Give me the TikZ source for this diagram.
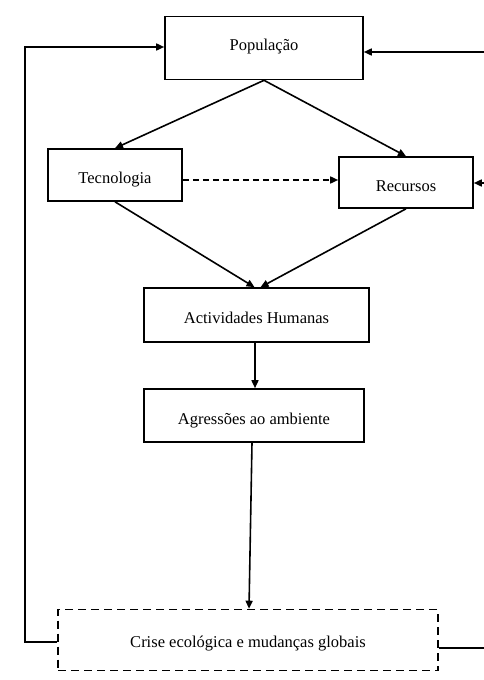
\documentclass[tikz,border=0pt]{standalone}
\usepackage{fontspec}
\setmainfont{Liberation Serif}
\usetikzlibrary{arrows.meta}
\newcommand\shifttxt[2]{\raisebox{#1}[11pt][3.5pt]{#2}}
\begin{document}
\begin{tikzpicture}[x=1pt,y=-1pt,
  box/.style={draw,line width=1.6pt,inner sep=0pt,font=\fontsize{16.5}{18}\selectfont},
  dbox/.style={box,dashed,dash pattern=on 8pt off 5pt},
  arr/.style={line width=1.6pt,-{Triangle[length=8pt,width=7pt]}},
  ln/.style={line width=1.6pt}]
\useasboundingbox (0,0) rectangle (483,680);
\fill[white] (0,0) rectangle (483,680);
\node[box,minimum width=198pt,minimum height=63pt] (pop) at (264,48) {\shifttxt{1pt}{População}};
\node[box,minimum width=134pt,minimum height=52pt] (tec) at (115,175) {\shifttxt{-5pt}{Tecnologia}};
\node[box,minimum width=134pt,minimum height=51pt] (rec) at (406,182.5) {\shifttxt{-5pt}{Recursos}};
\node[box,minimum width=225pt,minimum height=54pt] (act) at (256.5,315) {\shifttxt{-5pt}{Actividades Humanas}};
\node[box,minimum width=220pt,minimum height=53pt] (agr) at (254,415.5) {\shifttxt{-5pt}{Agressões ao ambiente}};
\node[dbox,minimum width=380pt,minimum height=61pt] (cri) at (248,640) {\shifttxt{-4pt}{Crise ecológica e mudanças globais}};
% main flow
\draw[arr] (pop.south) -- (tec.north);
\draw[arr] (pop.south) -- (rec.north);
\draw[arr,dashed,dash pattern=on 6pt off 4pt] (tec.east |- 0,180) -- (rec.west |- 0,180);
\draw[arr] (tec.south) -- ([xshift=-2pt]act.north);
\draw[arr] (rec.south) -- ([xshift=4pt]act.north);
\draw[arr] ([xshift=-1.5pt]act.south) -- ([xshift=1pt]agr.north);
\draw[arr] ([xshift=-2pt]agr.south) -- ([xshift=1pt]cri.north);
% left feedback
\coordinate (lb) at (25,642);
\coordinate (lt) at (25,47);
\draw[arr] (cri.west |- lb) -- (lb) -- (lt) -- (pop.west |- lt);
% right feedback (runs off the right edge)
\coordinate (rb) at (490,648);
\coordinate (rt) at (490,52);
\coordinate (rm) at (490,183);
\draw[ln] (cri.east |- rb) -- (rb) -- (rt);
\draw[arr] (rt) -- (pop.east |- rt);
\draw[arr] (rm) -- (rec.east |- rm);
\end{tikzpicture}
\end{document}
